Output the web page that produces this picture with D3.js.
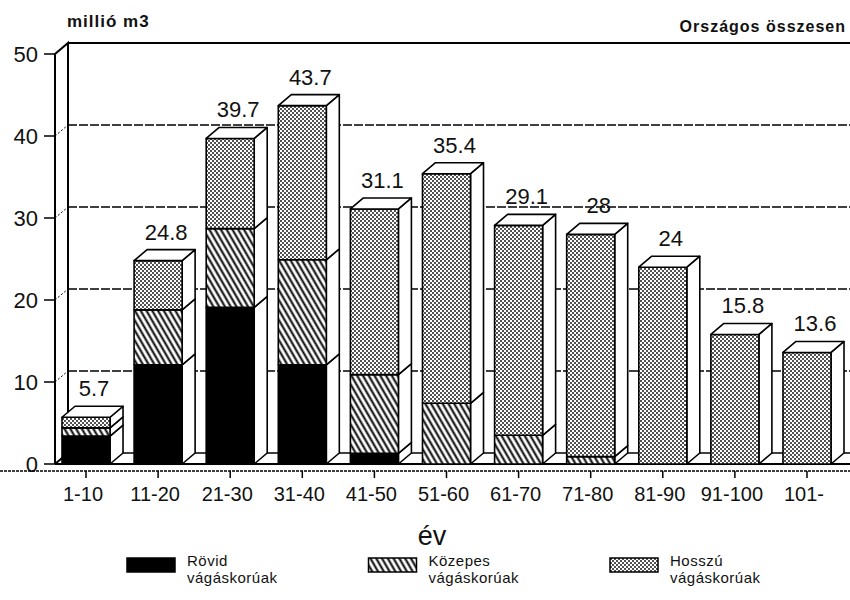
<!DOCTYPE html>
<html>
<head>
<meta charset="utf-8">
<script src="https://cdnjs.cloudflare.com/ajax/libs/d3/7.8.5/d3.min.js"></script>
<style>
	body { margin: 0; background: #fff; }
	text { font-family: "Liberation Sans", Arial, sans-serif; fill: #111; }
</style>
</head>
<body>
<script>

// age classes (év) and the three stacked series, millió m3
var categories = ["1-10", "11-20", "21-30", "31-40", "41-50", "51-60",
                  "61-70", "71-80", "81-90", "91-100", "101-"];
var rovid   = [3.4, 12.1, 19.1, 12.1, 1.3, 0, 0, 0, 0, 0, 0];
var kozepes = [1.0, 6.7, 9.6, 12.8, 9.6, 7.4, 3.5, 0.9, 0, 0, 0];
var hosszu  = [1.3, 6.0, 11.0, 18.8, 20.2, 28.0, 25.6, 27.1, 24, 15.8, 13.6];
var totals  = [5.7, 24.8, 39.7, 43.7, 31.1, 35.4, 29.1, 28, 24, 15.8, 13.6];
var y_ticks = [0, 10, 20, 30, 40, 50];
var series_keys  = ["rovid", "kozepes", "hosszu"];
var series_names = ["Rövid", "Közepes", "Hosszú"];
var legend_sub   = "vágáskorúak";

window.onload = function(){

	var width = 850,
		height = 600;

	// 3d offset of the back wall
	var DX = 13,
		DY = 11;
	var WALL_X = 55;

	var svg = d3.select("body").append("svg")
		.attr("width", width)
		.attr("height", height);

	// patterns for the segments
	var defs = svg.append("defs");

	var hatch = defs.append("pattern")
		.attr("id", "hatch")
		.attr("patternUnits", "userSpaceOnUse")
		.attr("width", 5)
		.attr("height", 5)
		.attr("patternTransform", "rotate(-30)");
	hatch.append("rect").attr("width", 5).attr("height", 5).attr("fill", "#fff");
	hatch.append("line")
		.attr("x1", 1.5).attr("y1", 0).attr("x2", 1.5).attr("y2", 5)
		.attr("stroke", "#000").attr("stroke-width", 2);

	var dots = defs.append("pattern")
		.attr("id", "dots")
		.attr("patternUnits", "userSpaceOnUse")
		.attr("width", 4)
		.attr("height", 4);
	dots.append("rect").attr("width", 4).attr("height", 4).attr("fill", "#fff");
	dots.append("circle").attr("cx", 1).attr("cy", 1).attr("r", 0.9).attr("fill", "#000");
	dots.append("circle").attr("cx", 3).attr("cy", 3).attr("r", 0.9).attr("fill", "#000");

	var fills = { rovid: "#000", kozepes: "url(#hatch)", hosszu: "url(#dots)" };

	// scales
	var x = d3.scaleBand()
		.domain(categories)
		.range([62, 831])
		.paddingInner(0.334);
	var bw = x.bandwidth();

	var y = d3.scaleLinear()
		.domain([0, 50])
		.range([464, 54]);

	// build the table for d3.stack
	var table = categories.map(function(c, i){
		return { cat: c, rovid: rovid[i], kozepes: kozepes[i], hosszu: hosszu[i], total: totals[i] };
	});
	var stacked = d3.stack().keys(series_keys)(table);

	// back wall grid lines
	svg.append("g")
		.selectAll("line")
		.data(y_ticks.slice(1))
		.enter().append("line")
		.attr("x1", WALL_X + DX)
		.attr("x2", width)
		.attr("y1", function(d) { return y(d) - DY; })
		.attr("y2", function(d) { return y(d) - DY; })
		.attr("stroke", "#000")
		.attr("stroke-width", function(d) { return d == 50 ? 2 : 1.3; })
		.attr("stroke-dasharray", function(d) { return d == 50 ? null : "9,2"; });

	// floor back line and front line
	svg.append("line")
		.attr("x1", WALL_X + DX).attr("x2", width)
		.attr("y1", y(0) - DY).attr("y2", y(0) - DY)
		.attr("stroke", "#000").attr("stroke-width", 1.5);
	svg.append("line")
		.attr("x1", WALL_X).attr("x2", width)
		.attr("y1", y(0)).attr("y2", y(0))
		.attr("stroke", "#000").attr("stroke-width", 2);

	// left wall
	var wall = svg.append("g")
		.attr("fill", "none")
		.attr("stroke", "#000")
		.attr("stroke-width", 2);
	wall.append("path")
		.attr("d", "M" + WALL_X + "," + y(0) + "L" + WALL_X + "," + y(50) +
			"L" + (WALL_X + DX) + "," + (y(50) - DY) +
			"L" + (WALL_X + DX) + "," + (y(0) - DY) +
			"L" + WALL_X + "," + y(0));
	wall.selectAll("line.diag")
		.data(y_ticks.slice(1, 5))
		.enter().append("line")
		.attr("class", "diag")
		.attr("x1", WALL_X).attr("x2", WALL_X + DX)
		.attr("y1", function(d) { return y(d); })
		.attr("y2", function(d) { return y(d) - DY; })
		.attr("stroke-width", 1)
		.attr("stroke-dasharray", "2,2");
	wall.selectAll("line.tick")
		.data(y_ticks)
		.enter().append("line")
		.attr("class", "tick")
		.attr("x1", WALL_X - 11).attr("x2", WALL_X)
		.attr("y1", function(d) { return y(d); })
		.attr("y2", function(d) { return y(d); })
		.attr("stroke-width", 1.5);

	// y labels
	svg.append("g")
		.selectAll("text")
		.data(y_ticks)
		.enter().append("text")
		.attr("x", 38)
		.attr("y", function(d) { return y(d); })
		.attr("dy", "0.36em")
		.attr("text-anchor", "end")
		.style("font-size", "22px")
		.text(function(d) { return d; });

	// bars, segment by segment
	var layer = svg.append("g")
		.attr("stroke", "#000")
		.attr("stroke-width", 1.6)
		.attr("stroke-linejoin", "round");

	categories.forEach(function(c, i){
		var x0 = x(c);
		stacked.forEach(function(s){
			var d = s[i];
			if (d[1] - d[0] <= 0) return;
			var yb = y(d[0]),
				yt = y(d[1]);

			// side face
			layer.append("path")
				.attr("d", "M" + (x0 + bw) + "," + yb +
					"L" + (x0 + bw + DX) + "," + (yb - DY) +
					"L" + (x0 + bw + DX) + "," + (yt - DY) +
					"L" + (x0 + bw) + "," + yt + "Z")
				.attr("fill", "#fff");

			// front face
			layer.append("rect")
				.attr("x", x0)
				.attr("y", yt)
				.attr("width", bw)
				.attr("height", yb - yt)
				.attr("fill", fills[s.key]);
		});

		// top face
		var yt = y(totals[i]);
		layer.append("path")
			.attr("d", "M" + x0 + "," + yt +
				"L" + (x0 + DX) + "," + (yt - DY) +
				"L" + (x0 + bw + DX) + "," + (yt - DY) +
				"L" + (x0 + bw) + "," + yt + "Z")
			.attr("fill", "#fff");
	});

	// value labels
	svg.append("g")
		.selectAll("text")
		.data(table)
		.enter().append("text")
		.attr("x", function(d) { return x(d.cat) + bw / 2 + 8; })
		.attr("y", function(d) { return y(d.total) - DY - 10; })
		.attr("text-anchor", "middle")
		.style("font-size", "22px")
		.text(function(d) { return d.total; });

	// dotted front edge of the floor with ticks
	svg.append("line")
		.attr("x1", 0).attr("x2", width)
		.attr("y1", 471).attr("y2", 471)
		.attr("stroke", "#000")
		.attr("stroke-width", 1.5)
		.attr("stroke-dasharray", "3,1");
	svg.append("g")
		.selectAll("line")
		.data(categories)
		.enter().append("line")
		.attr("x1", function(d) { return x(d) + bw / 2; })
		.attr("x2", function(d) { return x(d) + bw / 2; })
		.attr("y1", 471).attr("y2", 478)
		.attr("stroke", "#000")
		.attr("stroke-width", 1.5);

	// x labels
	svg.append("g")
		.selectAll("text")
		.data(categories)
		.enter().append("text")
		.attr("x", function(d) { return x(d) + bw / 2 - 3; })
		.attr("y", 501)
		.attr("text-anchor", "middle")
		.style("font-size", "20px")
		.text(function(d) { return d; });

	// axis titles
	svg.append("text")
		.attr("x", 432)
		.attr("y", 545)
		.attr("text-anchor", "middle")
		.style("font-size", "27px")
		.text("év");

	svg.append("text")
		.attr("x", 67)
		.attr("y", 27)
		.style("font-size", "17px")
		.style("font-weight", "bold")
		.style("letter-spacing", "1px")
		.text("millió m3");

	svg.append("text")
		.attr("x", 846)
		.attr("y", 32)
		.attr("text-anchor", "end")
		.style("font-size", "16px")
		.style("font-weight", "bold")
		.style("letter-spacing", "1px")
		.text("Országos összesen");

	// legend
	var legend = svg.append("g")
		.selectAll("g")
		.data(series_keys)
		.enter().append("g")
		.attr("transform", function(d, i) {
			return "translate(" + (127 + i * 241.5) + ",558)";
		});

	legend.append("rect")
		.attr("width", 48)
		.attr("height", 14)
		.attr("fill", function(d) { return fills[d]; })
		.attr("stroke", "#000")
		.attr("stroke-width", 1.5);

	legend.append("text")
		.attr("x", 60)
		.attr("y", 8)
		.style("font-size", "15px")
		.style("letter-spacing", "0.5px")
		.text(function(d, i) { return series_names[i]; });

	legend.append("text")
		.attr("x", 60)
		.attr("y", 25)
		.style("font-size", "15px")
		.style("letter-spacing", "0.5px")
		.text(legend_sub);
}
</script>
</body>
</html>
